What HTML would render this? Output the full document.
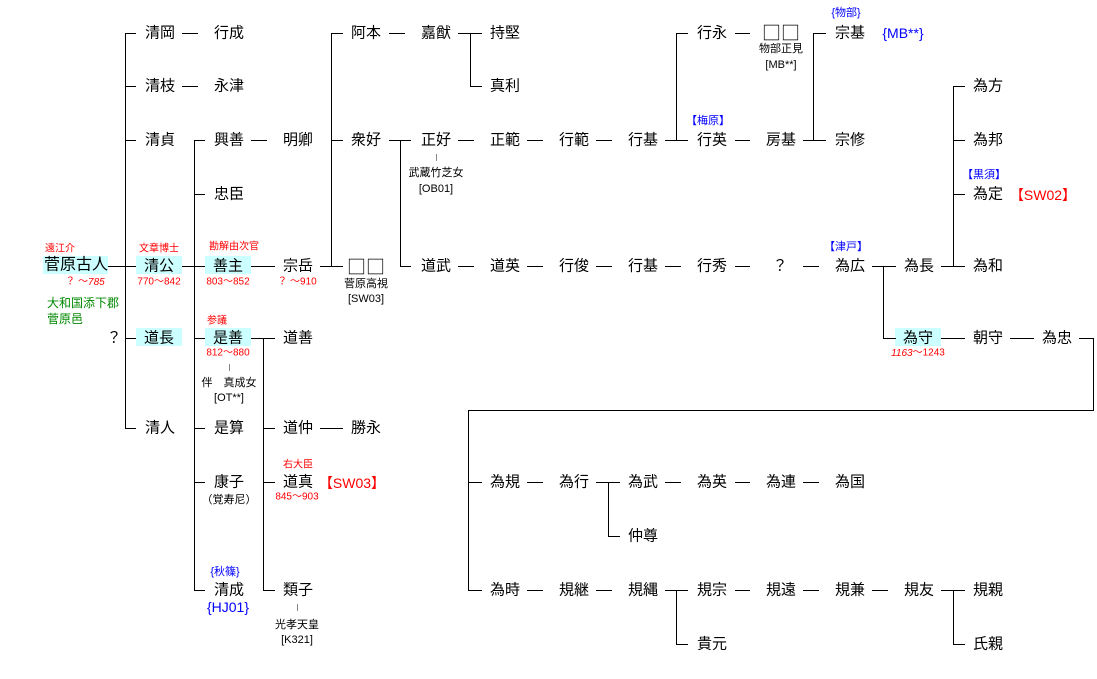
<!DOCTYPE html>
<html><head><meta charset="utf-8"><style>
html,body{margin:0;padding:0;background:#fff;}
svg{display:block;}
text{font-family:"Liberation Sans","Noto Sans CJK JP",sans-serif;dominant-baseline:central;text-anchor:middle;}
.n{font-size:15px;fill:#000;}
.s{font-size:11px;fill:#000;}
.r{font-size:10px;fill:#f00;}
.b{font-size:11px;fill:#00f;}
.g{font-size:12px;fill:#080;}
.sq{font-family:"Noto Sans CJK JP",sans-serif;font-size:19px;}
</style></head><body>
<svg width="1097" height="679" xmlns="http://www.w3.org/2000/svg">
<g fill="#ccffff">
<rect x="43" y="256" width="65" height="18"/>
<rect x="136" y="256" width="46" height="18"/>
<rect x="205" y="256" width="46" height="18"/>
<rect x="136" y="328" width="46" height="18"/>
<rect x="205" y="328" width="46" height="18"/>
<rect x="895" y="328" width="46" height="18"/>
</g>
<g stroke="#000" stroke-width="1" fill="none">
<path d="M125.5 33V428M194.5 140V590M263.5 338V590M331.5 33V266M400.5 140V266M470.5 33V86M676.5 33V140M813.5 33V140M883.5 266V338M953.5 86V266M468.5 410V590M608.5 482V536M676.5 590V644M953.5 590V644"/>
<path d="M125 33.5H136M182 33.5H198M331 33.5H343M389 33.5H405M458 33.5H482M676 33.5H688M735 33.5H750M813 33.5H826"/>
<path d="M125 86.5H136M182 86.5H198M470 86.5H482M953 86.5H965"/>
<path d="M125 140.5H136M194 140.5H205M251 140.5H267M331 140.5H343M389 140.5H411M458 140.5H474M527 140.5H543M596 140.5H612M665 140.5H688M735 140.5H750M803 140.5H826M953 140.5H965"/>
<path d="M194 194.5H205M953 194.5H965"/>
<path d="M108 266.5H136M182 266.5H205M251 266.5H275M320 266.5H343M400 266.5H411M458 266.5H474M527 266.5H543M596 266.5H612M665 266.5H681M735 266.5H750M803 266.5H819M872 266.5H896M941 266.5H965"/>
<path d="M125 338.5H136M194 338.5H205M251 338.5H275M883 338.5H896M941 338.5H965M1010 338.5H1034M1079 338.5H1093.5V410.5H468"/>
<path d="M125 428.5H136M194 428.5H205M263 428.5H275M320 428.5H343"/>
<path d="M194 482.5H205M263 482.5H275M468 482.5H482M527 482.5H543M596 482.5H620M665 482.5H681M735 482.5H750M803 482.5H819"/>
<path d="M608 536.5H620"/>
<path d="M194 590.5H205M263 590.5H275M468 590.5H482M527 590.5H543M596 590.5H612M665 590.5H688M735 590.5H750M803 590.5H819M872 590.5H888M941 590.5H965"/>
<path d="M676 644.5H688M953 644.5H965"/>
</g>
<g stroke="#888" stroke-width="1">
<path d="M229.5 364V371M436.5 154V161M297.5 604V611"/>
</g>
<g class="n">
<text x="76" y="265" style="font-size:16px">菅原古人</text>
<text x="160" y="33">清岡</text><text x="160" y="86">清枝</text><text x="160" y="140">清貞</text>
<text x="159" y="266">清公</text><text x="159" y="338">道長</text><text x="160" y="428">清人</text>
<text x="114" y="338">？</text>
<text x="229" y="33">行成</text><text x="229" y="86">永津</text>
<text x="229" y="140">興善</text><text x="229" y="194">忠臣</text><text x="228" y="266">善主</text>
<text x="228" y="338">是善</text><text x="229" y="428">是算</text><text x="229" y="482">康子</text><text x="229" y="590">清成</text>
<text x="298" y="140">明卿</text><text x="298" y="266">宗岳</text><text x="298" y="338">道善</text>
<text x="298" y="428">道仲</text><text x="298" y="482">道真</text><text x="298" y="590">類子</text>
<text x="366" y="33">阿本</text><text x="366" y="140">衆好</text><text x="366" y="266" class="sq">□□</text><text x="366" y="428">勝永</text>
<text x="436" y="33">嘉猷</text><text x="436" y="140">正好</text><text x="436" y="266">道武</text>
<text x="505" y="33">持堅</text><text x="505" y="86">真利</text><text x="505" y="140">正範</text><text x="505" y="266">道英</text>
<text x="505" y="482">為規</text><text x="505" y="590">為時</text>
<text x="574" y="140">行範</text><text x="574" y="266">行俊</text><text x="574" y="482">為行</text><text x="574" y="590">規継</text>
<text x="643" y="140">行基</text><text x="643" y="266">行基</text><text x="643" y="482">為武</text><text x="643" y="536">仲尊</text><text x="643" y="590">規縄</text>
<text x="712" y="33">行永</text><text x="712" y="140">行英</text><text x="712" y="266">行秀</text><text x="712" y="482">為英</text><text x="712" y="590">規宗</text><text x="712" y="644">貴元</text>
<text x="781" y="32" class="sq">□□</text><text x="781" y="140">房基</text><text x="780" y="266">？</text><text x="781" y="482">為連</text><text x="781" y="590">規遠</text>
<text x="850" y="33">宗基</text><text x="850" y="140">宗修</text><text x="850" y="266">為広</text><text x="850" y="482">為国</text><text x="850" y="590">規兼</text>
<text x="919" y="266">為長</text><text x="918" y="338">為守</text><text x="919" y="590">規友</text>
<text x="988" y="86">為方</text><text x="988" y="140">為邦</text><text x="988" y="194">為定</text><text x="988" y="266">為和</text>
<text x="988" y="338">朝守</text><text x="988" y="590">規親</text><text x="988" y="644">氏親</text>
<text x="1057" y="338">為忠</text>
</g>
<g class="s">
<text x="366" y="284">菅原高視</text><text x="366" y="299">[SW03]</text>
<text x="229" y="383">伴　真成女</text><text x="229" y="398">[OT**]</text>
<text x="436" y="173">武蔵竹芝女</text><text x="436" y="189">[OB01]</text>
<text x="781" y="49">物部正見</text><text x="781" y="65">[MB**]</text>
<text x="229" y="500">（覚寿尼）</text>
<text x="297" y="625">光孝天皇</text><text x="297" y="640">[K321]</text>
</g>
<g class="r">
<text x="60" y="249">遠江介</text>
<text x="159" y="249">文章博士</text>
<text x="234" y="247">勘解由次官</text>
<text x="217" y="321">参議</text>
<text x="85" y="282">？ ～<tspan font-style="italic">785</tspan></text>
<text x="159" y="282">770～842</text>
<text x="228" y="282">803～852</text>
<text x="297" y="282">？ ～910</text>
<text x="228" y="353">812～880</text>
<text x="298" y="465">右大臣</text>
<text x="297" y="497">845～903</text>
<text x="918" y="353"><tspan font-style="italic">1163</tspan>～1243</text>
</g>
<text x="352" y="483" style="font-size:14px;fill:#f00">【SW03】</text>
<text x="1043" y="195" style="font-size:14px;fill:#f00">【SW02】</text>
<g class="b">
<text x="846" y="13">{物部}</text>
<text x="708" y="121">【梅原】</text>
<text x="984" y="175">【黒須】</text>
<text x="846" y="247">【津戸】</text>
<text x="225" y="572">{秋篠}</text>
</g>
<text x="903" y="33" style="font-size:14px;fill:#00f">{MB**}</text>
<text x="228" y="607" style="font-size:14px;fill:#00f">{HJ01}</text>
<text x="47" y="303" class="g" style="text-anchor:start">大和国添下郡</text>
<text x="47" y="319" class="g" style="text-anchor:start">菅原邑</text>
</svg>
</body></html>
